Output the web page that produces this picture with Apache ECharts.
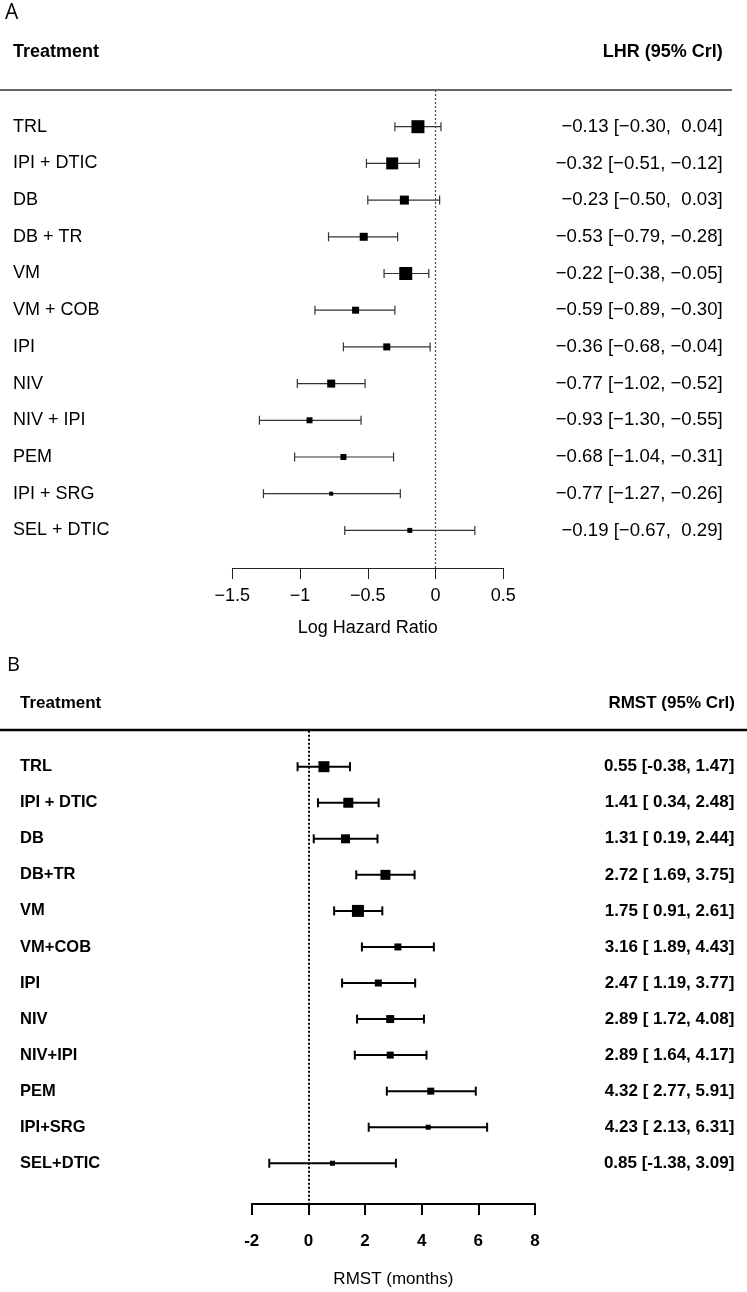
<!DOCTYPE html>
<html><head><meta charset="utf-8">
<script src="https://cdn.jsdelivr.net/npm/echarts@6/dist/echarts.min.js"></script>
<style>html,body{margin:0;padding:0;background:#fff}#c{width:747px;height:1292px}</style>
</head><body><div id="c"></div>
<script>
// ---- Panel A data (log hazard ratio) ----
const treatmentsA = ['TRL','IPI + DTIC','DB','DB + TR','VM','VM + COB','IPI','NIV','NIV + IPI','PEM','IPI + SRG','SEL + DTIC'];
const lhrMean = [-0.13,-0.32,-0.23,-0.53,-0.22,-0.59,-0.36,-0.77,-0.93,-0.68,-0.77,-0.19];
const lhrLow  = [-0.30,-0.51,-0.50,-0.79,-0.38,-0.89,-0.68,-1.02,-1.30,-1.04,-1.27,-0.67];
const lhrHigh = [0.04,-0.12,0.03,-0.28,-0.05,-0.30,-0.04,-0.52,-0.55,-0.31,-0.26,0.29];
const lhrTicks = [-1.5,-1,-0.5,0,0.5];

// ---- Panel B data (RMST, months) ----
const treatmentsB = ['TRL','IPI + DTIC','DB','DB+TR','VM','VM+COB','IPI','NIV','NIV+IPI','PEM','IPI+SRG','SEL+DTIC'];
const rmstMean = [0.55,1.41,1.31,2.72,1.75,3.16,2.47,2.89,2.89,4.32,4.23,0.85];
const rmstLow  = [-0.38,0.34,0.19,1.69,0.91,1.89,1.19,1.72,1.64,2.77,2.13,-1.38];
const rmstHigh = [1.47,2.48,2.44,3.75,2.61,4.43,3.77,4.08,4.17,5.91,6.31,3.09];
const rmstTicks = [-2,0,2,4,6,8];

// marker (box) sizes – styling only
const boxA = [13,12,9,8,13,7,7,8,6,6,4,5];
const boxB = [11,10,9,10,12,7,7,8,7,7,5,5];

const FONT = '"Liberation Sans", Arial, Helvetica, sans-serif';
const MINUS = '\u2212';

function fmtA(v, pad) {
  const s = Math.abs(v).toFixed(2);
  return v < 0 ? MINUS + s : (pad ? ' ' : '') + s;
}
const textA = lhrMean.map((m,i) => fmtA(m,false) + ' [' + fmtA(lhrLow[i],true) + ', ' + fmtA(lhrHigh[i],true) + ']');
const textB = rmstMean.map((m,i) => m.toFixed(2) + ' [' + (rmstLow[i] < 0 ? '' : ' ') + rmstLow[i].toFixed(2) + ', ' + rmstHigh[i].toFixed(2) + ']');

function rowLabel(arr) {
  return function (v) {
    const i = Math.round(v);
    return Math.abs(v - i) < 1e-6 && arr[i] !== undefined ? arr[i] : '';
  };
}

function errRender(capH, lw, color) {
  return function (params, api) {
    const i = api.value(2);
    const p1 = api.coord([api.value(0), i]);
    const p2 = api.coord([api.value(1), i]);
    const st = {stroke: color, lineWidth: lw};
    return {type: 'group', children: [
      {type: 'line', shape: {x1: p1[0], y1: p1[1], x2: p2[0], y2: p2[1]}, style: st},
      {type: 'line', shape: {x1: p1[0], y1: p1[1] - capH/2, x2: p1[0], y2: p1[1] + capH/2}, style: st},
      {type: 'line', shape: {x1: p2[0], y1: p2[1] - capH/2, x2: p2[0], y2: p2[1] + capH/2}, style: st}
    ]};
  };
}

function yAxis(grid, max, pos, fmt, margin, align, fs, fw) {
  return {
    gridIndex: grid, type: 'value', min: -1, max: max, interval: 1, inverse: true, position: pos,
    axisLine: {show: false}, axisTick: {show: false}, splitLine: {show: false},
    axisLabel: {show: true, margin: margin, align: align, fontSize: fs, fontWeight: fw, color: '#000', fontFamily: FONT, formatter: fmt}
  };
}

function txt(x, y, text, size, weight, align, family) {
  return {type: 'text', x: x, y: y, silent: true,
    style: {text: text, fontSize: size, fontWeight: weight, fontFamily: family || FONT, fill: '#000',
      align: align, textAlign: align, verticalAlign: 'middle', textVerticalAlign: 'middle'}};
}
function hline(x1, x2, y, color, lw) {
  return {type: 'line', silent: true, shape: {x1: x1, y1: y, x2: x2, y2: y}, style: {stroke: color, lineWidth: lw}};
}

const option = {
  animation: false,
  backgroundColor: '#fff',
  grid: [
    {left: 232.3, width: 271, top: 90, height: 478, outerBoundsMode: 'none'},
    {left: 251.7, width: 283.3, top: 730.65, height: 473.35, outerBoundsMode: 'none'}
  ],
  xAxis: [
    {gridIndex: 0, type: 'value', min: lhrTicks[0], max: lhrTicks[lhrTicks.length-1], interval: lhrTicks[1]-lhrTicks[0], position: 'bottom',
     axisLine: {show: true, onZero: false, lineStyle: {color: '#222', width: 1}},
     axisTick: {show: true, length: 11, lineStyle: {color: '#222', width: 1}},
     splitLine: {show: false},
     axisLabel: {fontSize: 18, color: '#000', margin: 19, fontFamily: FONT, formatter: v => String(v).replace('-', MINUS)},
     name: 'Log Hazard Ratio', nameLocation: 'middle', nameGap: 51,
     nameTextStyle: {fontSize: 18, color: '#000', fontFamily: FONT}},
    {gridIndex: 1, type: 'value', min: rmstTicks[0], max: rmstTicks[rmstTicks.length-1], interval: rmstTicks[1]-rmstTicks[0], position: 'bottom',
     axisLine: {show: true, onZero: false, lineStyle: {color: '#000', width: 2}},
     axisTick: {show: true, length: 11, lineStyle: {color: '#000', width: 2}},
     splitLine: {show: false},
     axisLabel: {fontSize: 17, fontWeight: 'bold', color: '#000', margin: 29, fontFamily: FONT},
     name: 'RMST (months)', nameLocation: 'middle', nameGap: 67,
     nameTextStyle: {fontSize: 17, color: '#000', fontFamily: FONT}}
  ],
  yAxis: [
    yAxis(0, 12.025, 'left', rowLabel(treatmentsA), 219.3, 'left', 18, 'normal'),
    yAxis(0, 12.025, 'right', rowLabel(textA), 219.4, 'right', 18.6, 'normal'),
    yAxis(1, 12.13, 'left', rowLabel(treatmentsB), 231.7, 'left', 16.5, 'bold'),
    yAxis(1, 12.13, 'right', rowLabel(textB), 199.3, 'right', 17, 'bold')
  ],
  series: [
    {type: 'custom', xAxisIndex: 0, yAxisIndex: 0, z: 2, silent: true,
     renderItem: errRender(9, 1.2, '#333'),
     encode: {x: [0, 1], y: 2},
     data: lhrLow.map((l, i) => [l, lhrHigh[i], i])},
    {type: 'scatter', xAxisIndex: 0, yAxisIndex: 0, z: 3, silent: true, symbol: 'rect',
     itemStyle: {color: '#000', opacity: 1},
     data: lhrMean.map((m, i) => ({value: [m, i], symbolSize: boxA[i]})),
     markLine: {silent: true, symbol: 'none', label: {show: false}, animation: false,
       lineStyle: {type: [2, 2], color: '#444', width: 1.2}, data: [{xAxis: 0}]}},
    {type: 'custom', xAxisIndex: 1, yAxisIndex: 2, z: 2, silent: true,
     renderItem: errRender(9, 2, '#000'),
     encode: {x: [0, 1], y: 2},
     data: rmstLow.map((l, i) => [l, rmstHigh[i], i])},
    {type: 'scatter', xAxisIndex: 1, yAxisIndex: 2, z: 3, silent: true, symbol: 'rect',
     itemStyle: {color: '#000', opacity: 1},
     data: rmstMean.map((m, i) => ({value: [m, i], symbolSize: boxB[i]})),
     markLine: {silent: true, symbol: 'none', label: {show: false}, animation: false,
       lineStyle: {type: [2, 2], color: '#000', width: 2}, data: [{xAxis: 0}]}}
  ],
  graphic: [
    txt(5, 13, 'A', 21, 'normal', 'left', '"Open Sans", sans-serif'),
    txt(13, 52, 'Treatment', 18, 'bold', 'left'),
    txt(722.7, 52, 'LHR (95% Crl)', 18, 'bold', 'right'),
    hline(0, 732, 90, '#666', 2),
    txt(7, 665, 'B', 20, 'normal', 'left', '"Open Sans", sans-serif'),
    txt(20, 703, 'Treatment', 17, 'bold', 'left'),
    txt(735, 703, 'RMST (95% Crl)', 17, 'bold', 'right'),
    hline(0, 747, 730, '#000', 2.5)
  ]
};

const chart = echarts.init(document.getElementById('c'), null, {renderer: 'canvas'});
chart.setOption(option);
</script>
</body></html>
